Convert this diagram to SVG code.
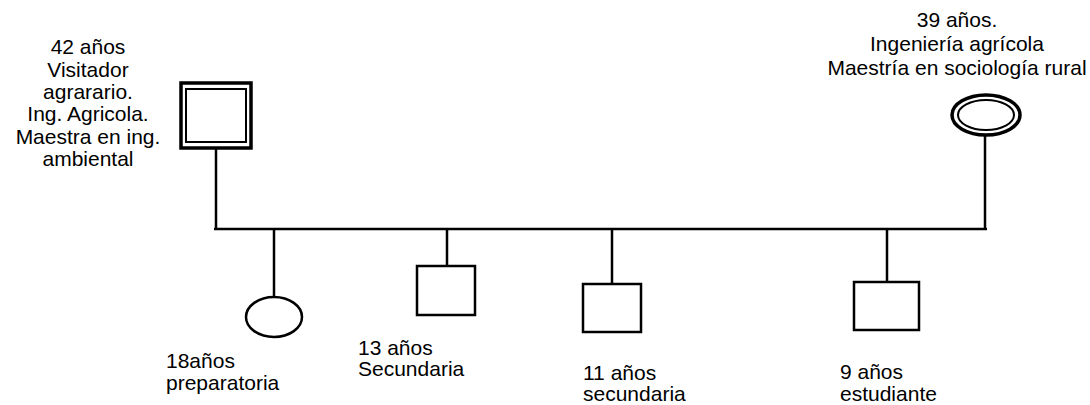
<svg xmlns="http://www.w3.org/2000/svg" width="1090" height="405" viewBox="0 0 1090 405">
<style>
text{font-family:"Liberation Sans",Arial,sans-serif;font-size:21px;fill:#000}
.c{text-anchor:middle}
.s{fill:none;stroke:#000;stroke-width:2.5}
.thick{fill:none;stroke:#000;stroke-width:3.5}
.thin{fill:none;stroke:#000;stroke-width:2}
</style>
<rect width="1090" height="405" fill="#fff"/>
<g id="connectors">
<line class="s" x1="216" y1="148" x2="216" y2="229"/>
<line class="s" x1="985" y1="135" x2="985" y2="229"/>
<line class="s" x1="214" y1="229" x2="987" y2="229"/>
<line class="s" x1="274" y1="229" x2="274" y2="297"/>
<line class="s" x1="447" y1="229" x2="447" y2="266"/>
<line class="s" x1="612" y1="229" x2="612" y2="284"/>
<line class="s" x1="887" y1="229" x2="887" y2="282"/>
</g>
<g id="father">
<rect class="thick" x="181" y="83" width="70" height="65"/>
<rect class="thin" x="186" y="89" width="60" height="53"/>
<text class="c" x="88" y="54">42 años</text>
<text class="c" x="88" y="76.5">Visitador</text>
<text class="c" x="88" y="99">agrarario.</text>
<text class="c" x="88" y="121">Ing. Agricola.</text>
<text class="c" x="88" y="143.5">Maestra en ing.</text>
<text class="c" x="88" y="166">ambiental</text>
</g>
<g id="mother">
<ellipse class="thick" cx="986" cy="115" rx="34" ry="20"/>
<ellipse class="thin" cx="986" cy="115" rx="28" ry="15"/>
<text class="c" x="957" y="27">39 años.</text>
<text class="c" x="957" y="51">Ingeniería agrícola</text>
<text class="c" x="957" y="75">Maestría en sociología rural</text>
</g>
<g id="child1">
<ellipse class="s" cx="274" cy="317" rx="28" ry="20"/>
<text x="166" y="368">18años</text>
<text x="166" y="390">preparatoria</text>
</g>
<g id="child2">
<rect class="s" x="417" y="266" width="58" height="49"/>
<text x="358" y="355">13 años</text>
<text x="358" y="376">Secundaria</text>
</g>
<g id="child3">
<rect class="s" x="583" y="284" width="58" height="48"/>
<text x="583" y="380">11 años</text>
<text x="583" y="401">secundaria</text>
</g>
<g id="child4">
<rect class="s" x="854" y="282" width="65" height="48"/>
<text x="840" y="379">9 años</text>
<text x="840" y="401">estudiante</text>
</g>
</svg>
